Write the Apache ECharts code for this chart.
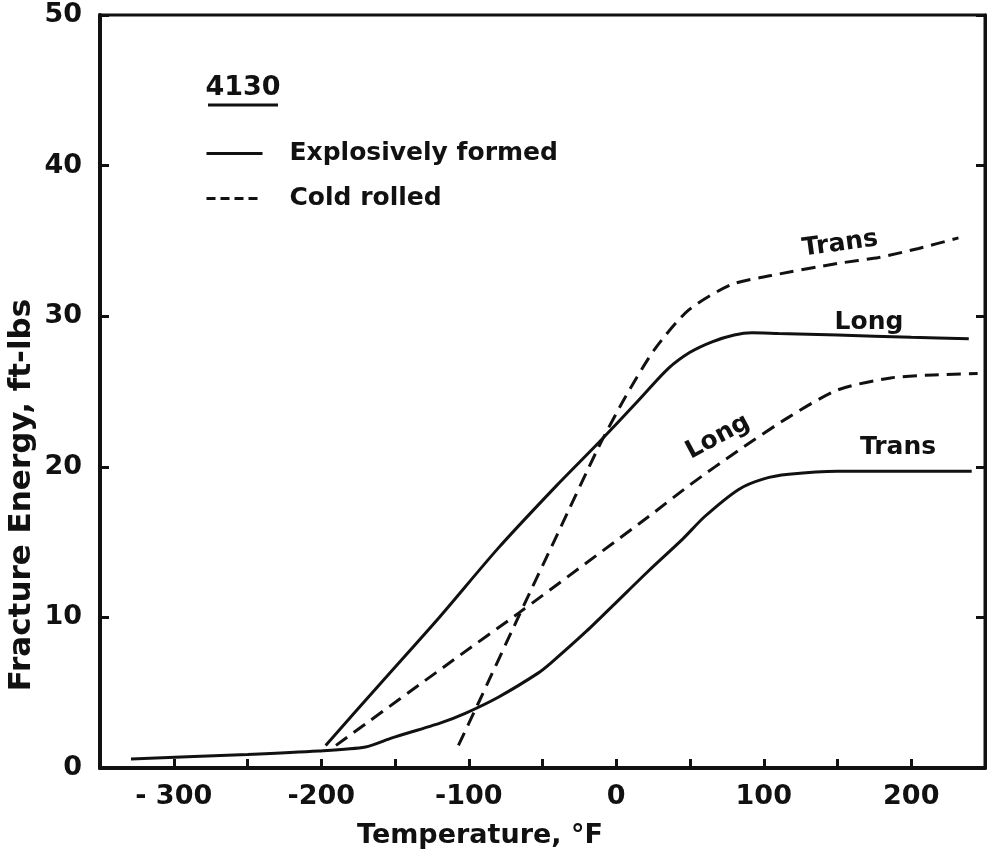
<!DOCTYPE html>
<html>
<head>
<meta charset="utf-8">
<title>4130 Fracture Energy</title>
<script src="https://cdn.jsdelivr.net/npm/echarts@6/dist/echarts.min.js"></script>
<style>
  html, body { margin: 0; padding: 0; background: #fff; }
  #chart { width: 989px; height: 859px; }
</style>
</head>
<body>
<div id="chart"></div>
<script>
// values (temperature in °F, energy in ft-lbs)
const exLongX = [-197, -160, -120, -80, -40, -12, 15, 35, 50, 65, 80, 92, 110, 150, 200, 239];
const exLongY = [1.5, 5.6, 10.0, 14.6, 18.8, 21.6, 24.4, 26.5, 27.6, 28.3, 28.75, 28.9, 28.85, 28.75, 28.6, 28.5];

const exTransX = [-329, -250, -202, -170, -152, -119, -102, -80, -53, -44, -20, 0, 22, 45, 60, 83, 100, 117, 150, 200, 241];
const exTransY = [0.6, 0.9, 1.13, 1.4, 2.0, 3.0, 3.65, 4.7, 6.3, 7.0, 9.1, 11.0, 13.1, 15.2, 16.7, 18.5, 19.2, 19.5, 19.7, 19.7, 19.7];

const crLongX = [-190, -110, -66, 22, 50, 83, 117, 150, 186, 215, 245];
const crLongY = [1.5, 7.2, 10.3, 16.7, 18.8, 21.1, 23.3, 25.1, 25.9, 26.1, 26.2];

const crTransX = [-107, -94, -66, -40, -12, 6, 26, 49, 78, 105, 150, 178, 205, 232];
const crTransY = [1.5, 4.2, 10.1, 15.5, 21.3, 24.6, 27.8, 30.4, 32.1, 32.7, 33.5, 33.9, 34.5, 35.2];

const xTickLabels = { '-300': '- 300', '-200': '-200', '-100': '-100', '0': '0', '100': '100', '200': '200' };
const yTickLabels = ['0', '10', '20', '30', '40', '50'];

const FONT = 'DejaVu Sans';
const INK = '#111';

function zip(xs, ys) {
  return xs.map((x, i) => [x, ys[i]]);
}

const chart = echarts.init(document.getElementById('chart'));

const solid = { color: INK, width: 3, type: 'solid' };
const dashed = { color: INK, width: 3, type: [14, 8] };

function curve(name, xs, ys, lineStyle) {
  return {
    name, type: 'line', data: zip(xs, ys),
    lineStyle, itemStyle: { color: INK },
    symbol: 'none', showSymbol: false,
    smooth: 0.25
  };
}

const option = {
  backgroundColor: '#fff',
  animation: false,
  grid: {
    left: 100, right: 4, top: 15, bottom: 91,
    containLabel: false,
    show: true, borderColor: INK, borderWidth: 3
  },
  legend: {
    orient: 'vertical',
    left: 200, top: 136,
    itemWidth: 56, itemHeight: 12, itemGap: 20,
    selectedMode: false,
    itemStyle: { opacity: 0 },
    data: [
      { name: 'Explosively formed', lineStyle: { type: 'solid', width: 3 } },
      { name: 'Cold rolled', lineStyle: { type: [9, 5], width: 3 } }
    ],
    textStyle: { fontFamily: FONT, fontWeight: 'bold', fontSize: 25, color: INK, padding: [0, 0, 0, 22] }
  },
  xAxis: {
    type: 'value',
    min: -350, max: 250, interval: 50,
    axisLine: { onZero: false, lineStyle: { color: INK, width: 4 } },
    axisTick: { inside: true, length: 9, lineStyle: { color: INK, width: 3 } },
    splitLine: { show: false },
    axisLabel: {
      margin: 15,
      fontFamily: FONT, fontWeight: 'bold', fontSize: 27, color: INK,
      formatter: v => xTickLabels[String(v)] || ''
    }
  },
  yAxis: [
    {
      type: 'value', position: 'left',
      min: 0, max: 50, interval: 10,
      axisLine: { show: true, onZero: false, lineStyle: { color: INK, width: 4 } },
      axisTick: { show: true, inside: true, length: 9, lineStyle: { color: INK, width: 3 } },
      splitLine: { show: false },
      axisLabel: {
        margin: 18,
        fontFamily: FONT, fontWeight: 'bold', fontSize: 27, color: INK,
        formatter: v => yTickLabels[v / 10]
      }
    },
    {
      type: 'value', position: 'right',
      min: 0, max: 50, interval: 10,
      axisLine: { show: true, onZero: false, lineStyle: { color: INK, width: 3 } },
      axisTick: { show: true, inside: true, length: 9, lineStyle: { color: INK, width: 3 } },
      splitLine: { show: false },
      axisLabel: { show: false }
    }
  ],
  series: [
    curve('Explosively formed', exLongX, exLongY, solid),
    curve('Explosively formed', exTransX, exTransY, solid),
    curve('Cold rolled', crLongX, crLongY, dashed),
    curve('Cold rolled', crTransX, crTransY, dashed)
  ],
  graphic: [
    // axis titles
    { type: 'text', x: 480, y: 836, style: { text: 'Temperature, °F', font: `bold 27px "${FONT}"`, fill: INK, align: 'center', verticalAlign: 'middle' } },
    { type: 'text', x: 22, y: 495, rotation: Math.PI / 2, style: { text: 'Fracture Energy, ft-lbs', font: `bold 31px "${FONT}"`, fill: INK, align: 'center', verticalAlign: 'middle' } },
    // alloy heading
    { type: 'text', x: 243, y: 88, style: { text: '4130', font: `bold 27px "${FONT}"`, fill: INK, align: 'center', verticalAlign: 'middle' } },
    { type: 'line', shape: { x1: 208, y1: 105, x2: 278, y2: 105 }, style: { stroke: INK, lineWidth: 3 } },
    // curve annotations
    { type: 'text', x: 840, y: 244, rotation: 0.136, style: { text: 'Trans', font: `bold 25px "${FONT}"`, fill: INK, align: 'center', verticalAlign: 'middle' } },
    { type: 'text', x: 869, y: 322, style: { text: 'Long', font: `bold 25px "${FONT}"`, fill: INK, align: 'center', verticalAlign: 'middle' } },
    { type: 'text', x: 718, y: 437, rotation: 0.49, style: { text: 'Long', font: `bold 25px "${FONT}"`, fill: INK, align: 'center', verticalAlign: 'middle' } },
    { type: 'text', x: 898, y: 447, style: { text: 'Trans', font: `bold 25px "${FONT}"`, fill: INK, align: 'center', verticalAlign: 'middle' } }
  ]
};

chart.setOption(option);
window.addEventListener('resize', () => chart.resize());
</script>
</body>
</html>
